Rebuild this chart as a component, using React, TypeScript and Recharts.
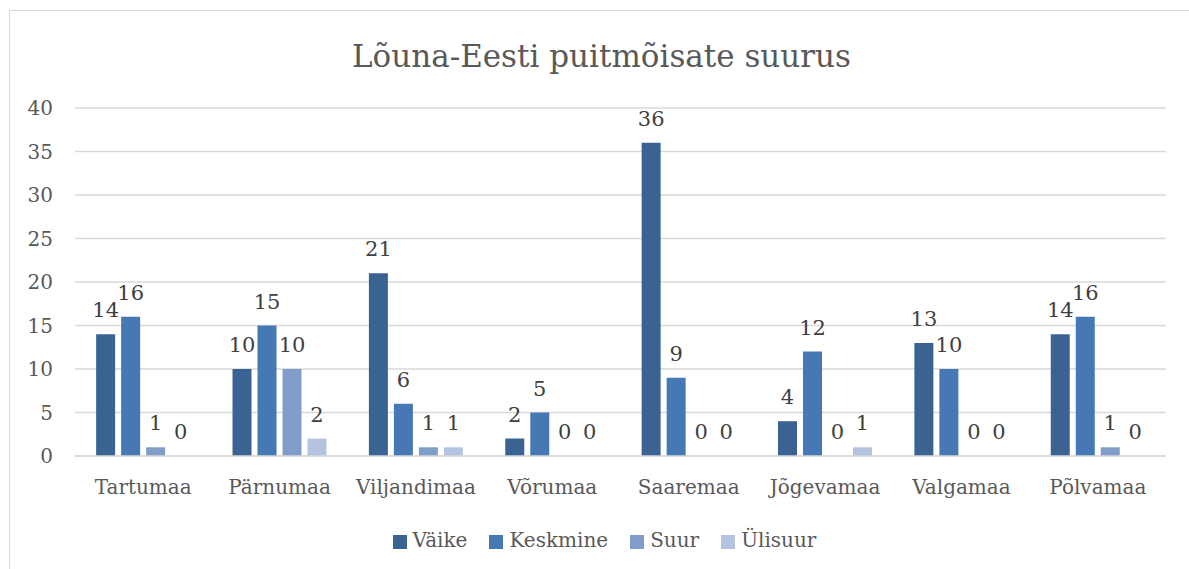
import React from 'react';
import { BarChart, Bar, XAxis, YAxis, CartesianGrid, Legend, LabelList } from 'recharts';

const categories = ['Tartumaa', 'Pärnumaa', 'Viljandimaa', 'Võrumaa', 'Saaremaa', 'Jõgevamaa', 'Valgamaa', 'Põlvamaa'];
const vaike = [14, 10, 21, 2, 36, 4, 13, 14];
const keskmine = [16, 15, 6, 5, 9, 12, 10, 16];
const suur = [1, 10, 1, 0, 0, 0, 0, 1];
const ulisuur = [0, 2, 1, 0, 0, 1, 0, 0];
const yTicks = [0, 5, 10, 15, 20, 25, 30, 35, 40];

const seriesNames = ['Väike', 'Keskmine', 'Suur', 'Ülisuur'];
const colors = ['#3B6392', '#4678B3', '#7F9DC8', '#B4C4E0'];

const data = categories.map((c, i) => ({
  name: c,
  s0: vaike[i],
  s1: keskmine[i],
  s2: suur[i],
  s3: ulisuur[i],
}));

const FONT = '"DejaVu Serif", "Liberation Serif", serif';

export default function App() {
  return (
    <div style={{ position: 'absolute', left: 0, top: 0, width: 1189, height: 569, background: '#fff', fontFamily: FONT }}>
      <div style={{ position: 'absolute', left: 9, top: 10, right: -2, bottom: -2, border: '1.5px solid #d9d9d9' }} />
      <div style={{ position: 'absolute', left: 0, top: 38, width: 1189, textAlign: 'center', fontSize: 31, color: '#595959', fontFamily: FONT, paddingLeft: 14, boxSizing: 'border-box' }}>
        Lõuna-Eesti puitmõisate suurus
      </div>
      <div style={{ position: 'absolute', left: 0, top: 0 }}>
        <BarChart
          width={1189}
          height={569}
          data={data}
          margin={{ top: 108, right: 23, left: 15, bottom: 49 }}
          barGap={6}
          barCategoryGap="15.5%"
        >
          <CartesianGrid vertical={false} stroke="#d9d9d9" strokeWidth={1.5} />
          <XAxis
            dataKey="name"
            axisLine={{ stroke: '#d9d9d9', strokeWidth: 1.5 }}
            tickLine={false}
            tick={{ fill: '#595959', fontSize: 20, fontFamily: FONT }}
            height={40}
            tickMargin={18}
          />
          <YAxis
            domain={[0, 40]}
            ticks={yTicks}
            axisLine={false}
            tickLine={false}
            width={60}
            tick={{ fill: '#595959', fontSize: 20, fontFamily: FONT }}
            tickMargin={16}
          />
          <Legend
            verticalAlign="bottom"
            iconType="square"
            iconSize={14}
            itemSorter="dataKey"
            wrapperStyle={{ top: 528, paddingLeft: 25, fontFamily: FONT, fontSize: 20 }}
            formatter={(v: string) => <span style={{ color: '#595959', marginRight: 12, marginLeft: 2 }}>{v}</span>}
          />
          {['s0', 's1', 's2', 's3'].map((k, i) => (
            <Bar key={k} dataKey={k} name={seriesNames[i]} fill={colors[i]} minPointSize={0.01} isAnimationActive={false}>
              <LabelList dataKey={k} position="top" offset={17} style={{ fill: '#404040', fontSize: 21, fontFamily: FONT }} />
            </Bar>
          ))}
        </BarChart>
      </div>
    </div>
  );
}
